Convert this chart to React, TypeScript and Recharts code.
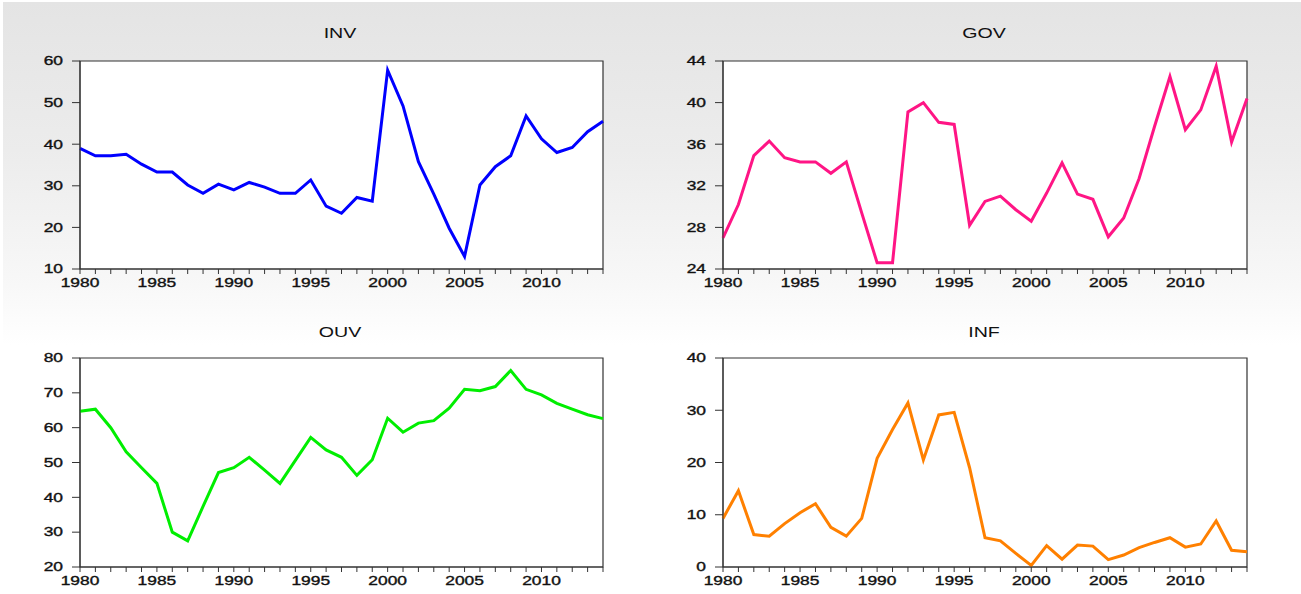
import { LineChart, Line, XAxis, YAxis, CartesianGrid, ReferenceArea } from 'recharts'

const years = [
  1980, 1981, 1982, 1983, 1984, 1985, 1986, 1987, 1988, 1989, 1990, 1991, 1992, 1993, 1994, 1995, 1996, 1997,
  1998, 1999, 2000, 2001, 2002, 2003, 2004, 2005, 2006, 2007, 2008, 2009, 2010, 2011, 2012, 2013, 2014,
]

const inv = [
  39.0, 37.2, 37.2, 37.6, 35.2, 33.3, 33.3, 30.2, 28.2, 30.4, 29.0, 30.8, 29.7, 28.2, 28.2, 31.4, 25.1, 23.4,
  27.2, 26.3, 57.8, 49.2, 35.8, 28.0, 19.8, 13.0, 30.2, 34.6, 37.2, 46.8, 41.3, 38.0, 39.2, 43.0, 45.5,
]
const gov = [
  27.0, 30.2, 34.9, 36.3, 34.7, 34.3, 34.3, 33.2, 34.3, 29.4, 24.6, 24.6, 39.1, 40.0, 38.1, 37.9, 28.2, 30.5,
  31.0, 29.7, 28.6, 31.3, 34.2, 31.2, 30.7, 27.1, 28.9, 32.7, 37.7, 42.5, 37.4, 39.3, 43.5, 36.2, 40.4,
]
const ouv = [
  64.7, 65.3, 60.0, 53.1, 48.5, 44.0, 30.0, 27.5, 37.4, 47.1, 48.5, 51.5, 47.8, 44.0, 50.6, 57.2, 53.6, 51.5,
  46.3, 50.8, 62.7, 58.7, 61.3, 62.0, 65.6, 71.0, 70.6, 71.8, 76.4, 71.0, 69.4, 67.0, 65.3, 63.7, 62.6,
]
const inf = [
  9.3, 14.6, 6.2, 5.9, 8.3, 10.4, 12.1, 7.6, 5.9, 9.3, 20.8, 26.3, 31.4, 20.5, 29.1, 29.6, 19.0, 5.6,
  5.0, 2.6, 0.3, 4.1, 1.5, 4.2, 4.0, 1.4, 2.3, 3.7, 4.7, 5.6, 3.8, 4.4, 8.8, 3.2, 2.9,
]

const invTicks = [10, 20, 30, 40, 50, 60]
const govTicks = [24, 28, 32, 36, 40, 44]
const ouvTicks = [20, 30, 40, 50, 60, 70, 80]
const infTicks = [0, 10, 20, 30, 40]

const font = "Arial, 'Liberation Sans', sans-serif"
const stretch = 1.45

// labels only every 5 years, minor ticks still drawn by the axis
const XTick = (props: any) => {
  const { x, y, payload } = props
  if (payload.value % 5 !== 0) return <g />
  return (
    <text
      transform={`translate(${x},${y}) scale(${stretch},1)`}
      textAnchor="middle"
      dy={9}
      fontSize={12}
      fill="#111"
      stroke="#111"
      strokeWidth={0.35}
      fontFamily={font}
    >
      {payload.value}
    </text>
  )
}

const YTick = (props: any) => {
  const { x, y, payload } = props
  return (
    <text
      transform={`translate(${x},${y}) scale(${stretch},1)`}
      textAnchor="end"
      dy={4.3}
      fontSize={12}
      fill="#111"
      stroke="#111"
      strokeWidth={0.35}
      fontFamily={font}
    >
      {payload.value}
    </text>
  )
}

type PanelProps = {
  title: string
  values: number[]
  yTicks: number[]
  color: string
  left: number
  top: number
  width: number
  height: number
  margin: { top: number; right: number; bottom: number; left: number }
  titleX: number
  titleY: number
}

function Panel({ title, values, yTicks, color, left, top, width, height, margin, titleX, titleY }: PanelProps) {
  const rows = years.map((year, i) => ({ year, v: values[i] }))
  const lo = yTicks[0]
  const hi = yTicks[yTicks.length - 1]
  return (
    <>
      <div
        style={{
          position: 'absolute',
          left: titleX - 100,
          top: titleY - 9,
          width: 200,
          textAlign: 'center',
          fontFamily: font,
          fontSize: 14,
          lineHeight: '18px',
          color: '#111',
          transform: `scaleX(1.4)`,
        }}
      >
        {title}
      </div>
      <div style={{ position: 'absolute', left, top }}>
        <LineChart width={width} height={height} data={rows} margin={margin}>
          <CartesianGrid horizontal={false} vertical={false} fill="#ffffff" />
          <XAxis
            dataKey="year"
            type="number"
            domain={[1980, 2014]}
            ticks={years}
            interval={0}
            tickSize={5}
            tickMargin={4}
            height={25}
            tick={XTick}
            axisLine={{ stroke: '#333' }}
            tickLine={{ stroke: '#333' }}
          />
          <YAxis
            type="number"
            domain={[lo, hi]}
            ticks={yTicks}
            interval={0}
            tickSize={8}
            tickMargin={9}
            width={40}
            tick={YTick}
            axisLine={{ stroke: '#333' }}
            tickLine={{ stroke: '#333' }}
          />
          <ReferenceArea x1={1980} x2={2014} y1={lo} y2={hi} fill="none" stroke="#333" strokeWidth={1.2} ifOverflow="visible" />
          <Line type="linear" dataKey="v" stroke={color} strokeWidth={3} dot={false} isAnimationActive={false} />
        </LineChart>
      </div>
    </>
  )
}

export default function App() {
  return (
    <div style={{ position: 'absolute', left: 0, top: 0, width: 1301, height: 594, background: '#fff', overflow: 'hidden' }}>
      <div
        style={{
          position: 'absolute',
          left: 3,
          top: 2,
          right: 0,
          bottom: 0,
          background: 'linear-gradient(180deg, #e4e4e4 0%, #ececec 25%, #f8f8f8 48%, #ffffff 58%)',
        }}
      />
      <Panel
        title="INV"
        values={inv}
        yTicks={invTicks}
        color="#0000ff"
        left={0}
        top={0}
        width={650}
        height={300}
        margin={{ top: 61, right: 47, bottom: 6, left: 40 }}
        titleX={340}
        titleY={33}
      />
      <Panel
        title="GOV"
        values={gov}
        yTicks={govTicks}
        color="#ff1585"
        left={650}
        top={0}
        width={651}
        height={300}
        margin={{ top: 61, right: 54, bottom: 6, left: 33 }}
        titleX={984}
        titleY={33}
      />
      <Panel
        title="OUV"
        values={ouv}
        yTicks={ouvTicks}
        color="#00ee00"
        left={0}
        top={300}
        width={650}
        height={294}
        margin={{ top: 58, right: 47, bottom: 2, left: 40 }}
        titleX={340}
        titleY={332}
      />
      <Panel
        title="INF"
        values={inf}
        yTicks={infTicks}
        color="#ff8000"
        left={650}
        top={300}
        width={651}
        height={294}
        margin={{ top: 58, right: 54, bottom: 2, left: 33 }}
        titleX={984}
        titleY={332}
      />
    </div>
  )
}
